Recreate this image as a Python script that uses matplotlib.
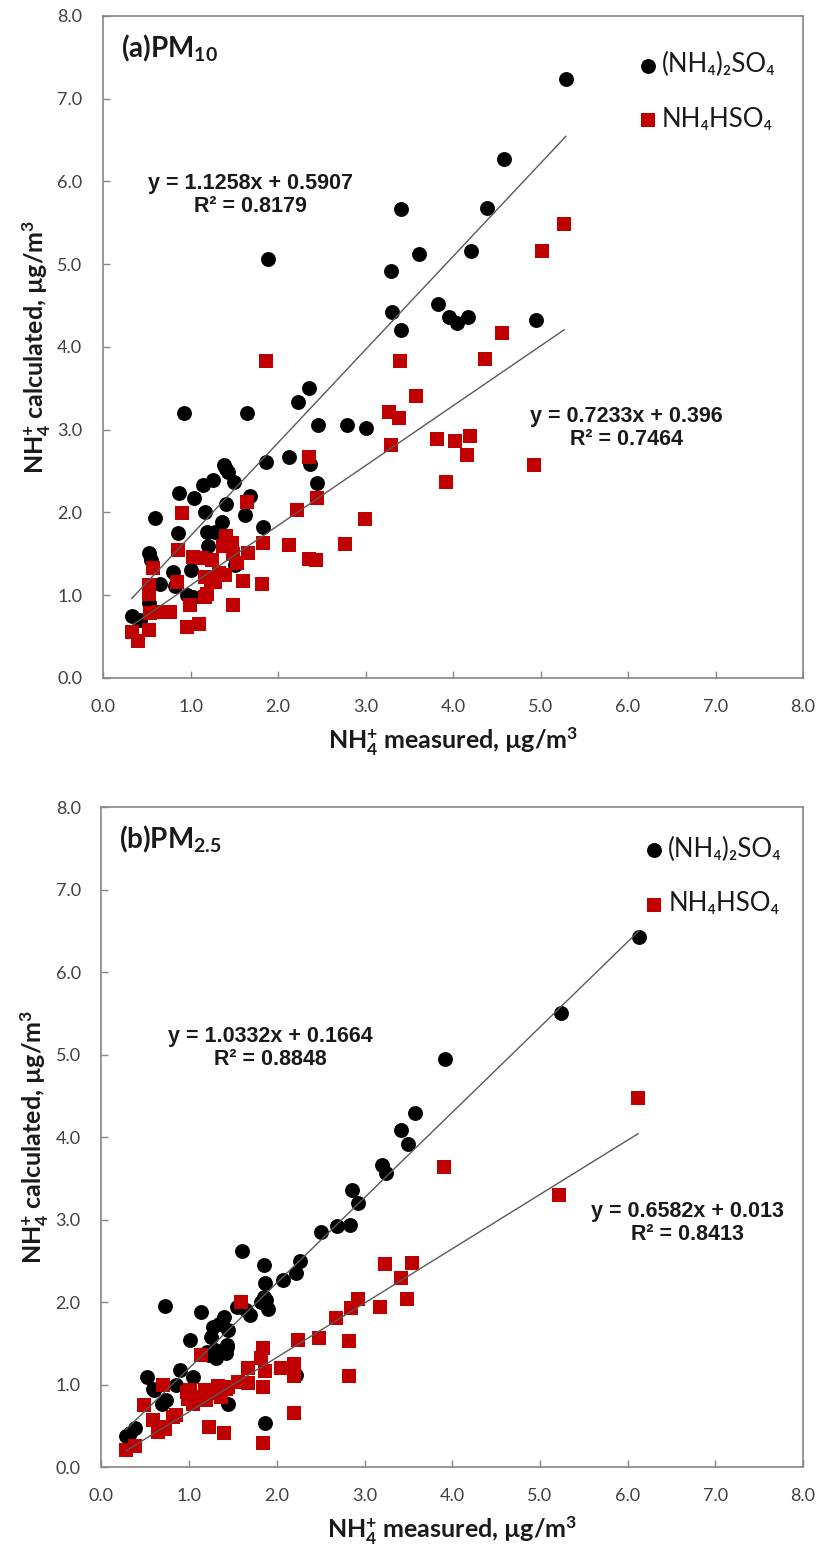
import matplotlib.pyplot as plt
import numpy as np

plt.rcParams['mathtext.fontset'] = 'custom'
plt.rcParams['mathtext.rm'] = 'Lato'
plt.rcParams['mathtext.bf'] = 'Lato:bold'
plt.rcParams['mathtext.it'] = 'Lato:italic'

# (a) PM10 -- (NH4)2SO4
pm10_as_x = [0.33, 0.42, 0.52, 0.53, 0.55, 0.59, 0.65, 0.80, 0.82, 0.86, 0.87, 0.93,
             0.96, 1.03, 1.01, 1.04, 1.14, 1.17, 1.19, 1.28, 1.20, 1.26, 1.36, 1.38,
             1.41, 1.43, 1.50, 1.51, 1.62, 1.65, 1.68, 1.83, 1.86, 1.88, 2.13, 2.23,
             2.35, 2.36, 2.45, 2.46, 2.79, 3.01, 3.29, 3.30, 3.40, 3.41, 3.61, 3.83,
             3.95, 4.04, 4.17, 4.21, 4.39, 4.58, 4.95, 5.29, 1.41]
pm10_as_y = [0.75, 0.70, 0.91, 1.51, 1.43, 1.93, 1.14, 1.28, 1.11, 1.75, 2.23, 3.20,
             1.00, 0.98, 1.30, 2.17, 2.33, 2.01, 1.77, 1.76, 1.59, 2.39, 1.89, 2.57,
             2.10, 2.49, 2.37, 1.37, 1.97, 3.20, 2.20, 1.83, 2.61, 5.06, 2.67, 3.34,
             3.51, 2.59, 2.36, 3.06, 3.06, 3.02, 4.92, 4.42, 4.21, 5.67, 5.12, 4.52,
             4.36, 4.29, 4.36, 5.16, 5.68, 6.27, 4.32, 7.24, 2.52]

# (a) PM10 -- NH4HSO4
pm10_ab_x = [0.33, 0.40, 0.52, 0.52, 0.52, 0.54, 0.57, 0.63, 0.77, 0.84, 0.86, 0.90,
             0.96, 0.99, 1.03, 1.10, 1.13, 1.17, 1.17, 1.19, 1.23, 1.24, 1.28, 1.32,
             1.37, 1.39, 1.41, 1.47, 1.49, 1.49, 1.53, 1.60, 1.66, 1.64, 1.82, 1.83,
             1.86, 2.12, 2.22, 2.35, 2.35, 2.43, 2.45, 2.77, 2.99, 3.27, 3.29, 3.38,
             3.39, 3.58, 3.82, 3.92, 4.02, 4.16, 4.19, 4.37, 4.56, 4.93, 5.02, 5.27]
pm10_ab_y = [0.56, 0.45, 0.58, 1.02, 1.12, 0.78, 1.33, 0.80, 0.80, 1.16, 1.55, 1.99,
             0.62, 0.88, 1.46, 0.65, 1.45, 0.98, 1.22, 1.02, 1.18, 1.43, 1.16, 1.27,
             1.59, 1.24, 1.71, 1.63, 0.88, 1.50, 1.39, 1.17, 1.51, 2.13, 1.14, 1.63,
             3.83, 1.61, 2.03, 1.44, 2.67, 1.42, 2.18, 1.62, 1.92, 3.22, 2.81, 3.14,
             3.83, 3.41, 2.89, 2.37, 2.86, 2.69, 2.92, 3.85, 4.17, 2.57, 5.16, 5.49]

# (b) PM2.5 -- (NH4)2SO4
pm25_as_x = [0.28, 0.33, 0.38, 0.52, 0.59, 0.60, 0.69, 0.74, 0.73, 0.855, 0.89, 1.006,
             1.04, 1.14, 1.20, 1.23, 1.25, 1.27, 1.30, 1.31, 1.34, 1.40, 1.43, 1.44,
             1.42, 1.43, 1.44, 1.54, 1.60, 1.65, 1.69, 1.82, 1.86, 1.85, 1.88, 1.87,
             1.90, 1.85, 2.07, 2.22, 2.22, 2.26, 2.50, 2.69, 2.84, 2.86, 2.93, 3.20,
             3.25, 3.42, 3.50, 3.57, 3.92, 5.24, 6.13]
pm25_as_y = [0.38, 0.41, 0.47, 1.09, 0.95, 0.93, 0.77, 0.81, 1.95, 0.99, 1.18, 1.54,
             1.09, 1.88, 1.40, 1.36, 1.58, 1.70, 1.42, 1.32, 1.74, 1.82, 1.48, 1.66,
             1.38, 1.46, 0.77, 1.94, 2.62, 1.90, 1.84, 2.00, 2.23, 2.45, 2.02, 0.53,
             1.92, 2.06, 2.27, 2.35, 1.12, 2.50, 2.85, 2.92, 2.93, 3.36, 3.20, 3.66,
             3.57, 4.08, 3.92, 4.29, 4.95, 5.51, 6.43]

# (b) PM2.5 -- NH4HSO4
pm25_ab_x = [0.28, 0.38, 0.49, 0.59, 0.645, 0.70, 0.72, 0.70, 0.82, 0.855, 0.97, 0.99,
             1.006, 1.04, 1.08, 1.13, 1.18, 1.19, 1.23, 1.30, 1.33, 1.36, 1.40, 1.42,
             1.44, 1.56, 1.59, 1.67, 1.67, 1.82, 1.84, 1.84, 1.84, 1.86, 2.05, 2.20,
             2.20, 2.20, 2.24, 2.48, 2.68, 2.82, 2.82, 2.85, 2.92, 3.18, 3.23, 3.42,
             3.49, 3.54, 3.91, 5.22, 6.12]
pm25_ab_y = [0.21, 0.25, 0.75, 0.57, 0.43, 0.49, 0.46, 0.99, 0.61, 0.63, 0.91, 0.83,
             0.93, 0.77, 0.85, 1.36, 0.93, 0.81, 0.49, 0.90, 0.98, 0.85, 0.41, 0.95,
             0.97, 1.03, 2.00, 1.02, 1.20, 1.32, 1.44, 0.29, 0.97, 1.16, 1.20, 1.25,
             1.11, 0.66, 1.54, 1.56, 1.81, 1.53, 1.10, 1.93, 2.04, 1.94, 2.46, 2.29,
             2.04, 2.47, 3.64, 3.30, 4.47]

# trendline coefficients (slope, intercept, r2) as printed on the chart
fit_pm10_as = (1.1258, 0.5907, 0.8179)
fit_pm10_ab = (0.7233, 0.396, 0.7464)
fit_pm25_as = (1.0332, 0.1664, 0.8848)
fit_pm25_ab = (0.6582, 0.013, 0.8413)

BLACK = '#000000'
RED = '#C00000'
SPINE = '#868686'
TICK_TXT = '#404040'
TEXT_FONT = ['Lato', 'DejaVu Sans']


def eq_text(fit):
    m, b, r2 = fit
    return f"y = {m:g}x + {b:g}\nR\u00b2 = {r2:g}"


def draw_panel(ax, as_x, as_y, ab_x, ab_y, fit_as, fit_ab, tag, eq_pos_as, eq_pos_ab, leg_anchor):
    h1 = ax.scatter(as_x, as_y, s=115, marker='o', color=BLACK, linewidths=0, zorder=2)
    h2 = ax.scatter(ab_x, ab_y, s=92, marker='s', color=RED, linewidths=0, zorder=3)

    for xs, fit in ((as_x, fit_as), (ab_x, fit_ab)):
        xx = np.array([min(xs), max(xs)])
        ax.plot(xx, fit[0] * xx + fit[1], color='#595959', lw=1.0, zorder=4)

    for pos, fit in ((eq_pos_as, fit_as), (eq_pos_ab, fit_ab)):
        ax.text(pos[0], pos[1], eq_text(fit), ha='center', va='center',
                multialignment='center', family='Liberation Sans', weight='bold',
                fontsize=15.5, color='#1a1a1a', linespacing=1.1, zorder=5)

    ax.text(0.025, 0.975, tag, transform=ax.transAxes, ha='left', va='top',
            family=TEXT_FONT, weight='bold', fontsize=20, color='#1a1a1a')

    ax.legend([h1, h2], ['(NH\u2084)\u2082SO\u2084', 'NH\u2084HSO\u2084'],
              loc='upper left', bbox_to_anchor=leg_anchor, frameon=False,
              borderpad=0, borderaxespad=0, handlelength=0.7, handletextpad=0.2,
              labelspacing=1.15, prop={'family': TEXT_FONT, 'size': 18.5},
              labelcolor='#1a1a1a')

    ax.set_xlim(0, 8)
    ax.set_ylim(0, 8)
    ticks = np.arange(0, 9, 1)
    ax.set_xticks(ticks)
    ax.set_yticks(ticks)
    ax.set_xticklabels([f"{t:.1f}" for t in ticks])
    ax.set_yticklabels([f"{t:.1f}" for t in ticks])
    ax.tick_params(direction='in', length=5, width=1, color=SPINE,
                   labelcolor=TICK_TXT, labelsize=13, pad=15)
    for lab in ax.get_xticklabels() + ax.get_yticklabels():
        lab.set_family(TEXT_FONT)
    for sp in ax.spines.values():
        sp.set_color(SPINE)
        sp.set_linewidth(1.2)

    ax.set_xlabel(r'NH$_\mathbf{4}^\mathbf{+}$ measured, µg/m$^\mathbf{3}$',
                  family=TEXT_FONT, weight='bold', fontsize=18, color='#1a1a1a',
                  labelpad=8)
    ax.set_ylabel(r'NH$_\mathbf{4}^\mathbf{+}$ calculated, µg/m$^\mathbf{3}$',
                  family=TEXT_FONT, weight='bold', fontsize=18, color='#1a1a1a',
                  labelpad=3)


fig = plt.figure(figsize=(8.19, 15.5), dpi=100)
ax_a = fig.add_axes([0.1258, 0.5626, 0.8547, 0.4271])
ax_b = fig.add_axes([0.1239, 0.0535, 0.8565, 0.4258])

draw_panel(ax_a, pm10_as_x, pm10_as_y, pm10_ab_x, pm10_ab_y, fit_pm10_as, fit_pm10_ab,
           r'(a)PM$_{\mathbf{10}}$', (1.69, 5.84), (5.98, 3.02), (0.765, 0.945))
draw_panel(ax_b, pm25_as_x, pm25_as_y, pm25_ab_x, pm25_ab_y, fit_pm25_as, fit_pm25_ab,
           r'(b)PM$_{\mathbf{2.5}}$', (1.93, 5.08), (6.68, 2.96), (0.775, 0.955))

fig.savefig('out.png', dpi=100)
